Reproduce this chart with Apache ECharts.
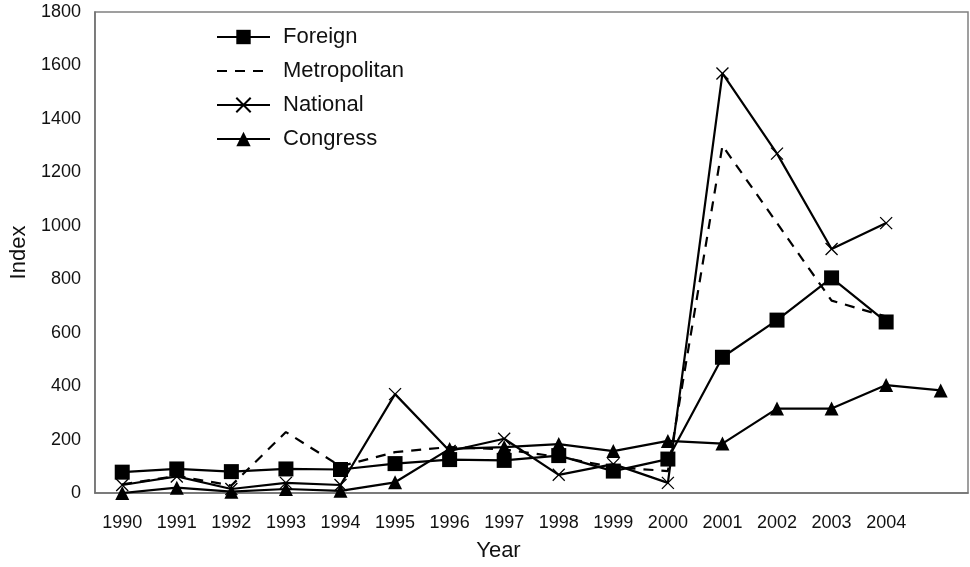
<!DOCTYPE html>
<html>
<head>
<meta charset="utf-8">
<script src="https://cdn.jsdelivr.net/npm/echarts@6/dist/echarts.min.js"></script>
<style>
  html, body { margin: 0; padding: 0; background: #fff; }
  #chart { width: 970px; height: 567px; }
</style>
</head>
<body>
<div id="chart"></div>
<script>
// Years on the category axis (last slot holds the trailing Congress point, unlabeled)
const years = ['1990', '1991', '1992', '1993', '1994', '1995', '1996', '1997',
               '1998', '1999', '2000', '2001', '2002', '2003', '2004', ''];
const yTicks = [0, 200, 400, 600, 800, 1000, 1200, 1400, 1600, 1800];

const foreign      = [78, 90, 80, 90, 88, 110, 125, 122, 140, 82, 127, 508, 647, 805, 640, null];
const metropolitan = [32, 64, 28, 228, 100, 153, 172, 163, 135, 97, 82, 1300, 1010, 720, 660, null];
const national     = [30, 62, 15, 38, 30, 370, 157, 203, 68, 108, 38, 1570, 1270, 913, 1010, null];
const congress     = [0, 20, 5, 15, 8, 40, 165, 172, 183, 157, 195, 185, 316, 316, 404, 384];

const FONT = '"Liberation Sans", Arial, sans-serif';
const INK = '#000';
const TEXT = '#111';
const crossPath = 'path://M0,0L10,10M10,0L0,10';

const chart = echarts.init(document.getElementById('chart'), null, { renderer: 'canvas' });

chart.setOption({
  animation: false,
  backgroundColor: '#fff',
  textStyle: { fontFamily: FONT },
  grid: {
    left: 93, right: 2, top: 12, bottom: 73,
    show: true, borderColor: '#808080', borderWidth: 1.5, backgroundColor: 'transparent'
  },
  legend: {
    orient: 'vertical',
    left: 211, top: 21,
    itemWidth: 53, itemHeight: 18, itemGap: 12,
    textStyle: { fontFamily: FONT, fontSize: 22, color: TEXT, padding: [0, 0, 0, 8] },
    data: [
      { name: 'Foreign' },
      { name: 'Metropolitan', itemStyle: { opacity: 0 } },
      { name: 'National' },
      { name: 'Congress' }
    ]
  },
  xAxis: {
    type: 'category',
    data: years,
    boundaryGap: true,
    axisLine: { lineStyle: { color: '#707070', width: 1.5 } },
    axisTick: { show: false },
    axisLabel: { fontFamily: FONT, fontSize: 18, color: TEXT, margin: 21, interval: 0 },
    name: 'Year',
    nameLocation: 'middle',
    nameGap: 47,
    nameTextStyle: { fontFamily: FONT, fontSize: 22, color: TEXT, padding: [0, 66, 0, 0] }
  },
  yAxis: {
    type: 'value',
    min: yTicks[0], max: yTicks[yTicks.length - 1], interval: 200,
    splitLine: { show: false },
    axisLine: { show: true, lineStyle: { color: '#707070', width: 1.5 } },
    axisTick: { show: false },
    axisLabel: { fontFamily: FONT, fontSize: 18, color: TEXT, margin: 14,
                 formatter: (v) => String(v) },
    name: 'Index',
    nameLocation: 'middle',
    nameGap: 64,
    nameTextStyle: { fontFamily: FONT, fontSize: 22, color: TEXT }
  },
  series: [
    {
      name: 'Foreign', type: 'line', data: foreign,
      symbol: 'rect', symbolSize: 15,
      lineStyle: { color: INK, width: 2.2 },
      itemStyle: { color: INK },
      z: 4
    },
    {
      name: 'Metropolitan', type: 'line', data: metropolitan,
      symbol: 'circle', showSymbol: false, symbolSize: 1,
      lineStyle: { color: INK, width: 2.2, type: [10, 8] },
      itemStyle: { color: INK },
      z: 2
    },
    {
      name: 'National', type: 'line', data: national,
      symbol: crossPath, symbolSize: 12,
      lineStyle: { color: INK, width: 2.2 },
      itemStyle: { color: 'transparent', borderColor: INK, borderWidth: 1.3 },
      z: 3
    },
    {
      name: 'Congress', type: 'line', data: congress,
      symbol: 'triangle', symbolSize: 14,
      lineStyle: { color: INK, width: 2.2 },
      itemStyle: { color: INK },
      z: 3
    }
  ]
});
</script>
</body>
</html>
